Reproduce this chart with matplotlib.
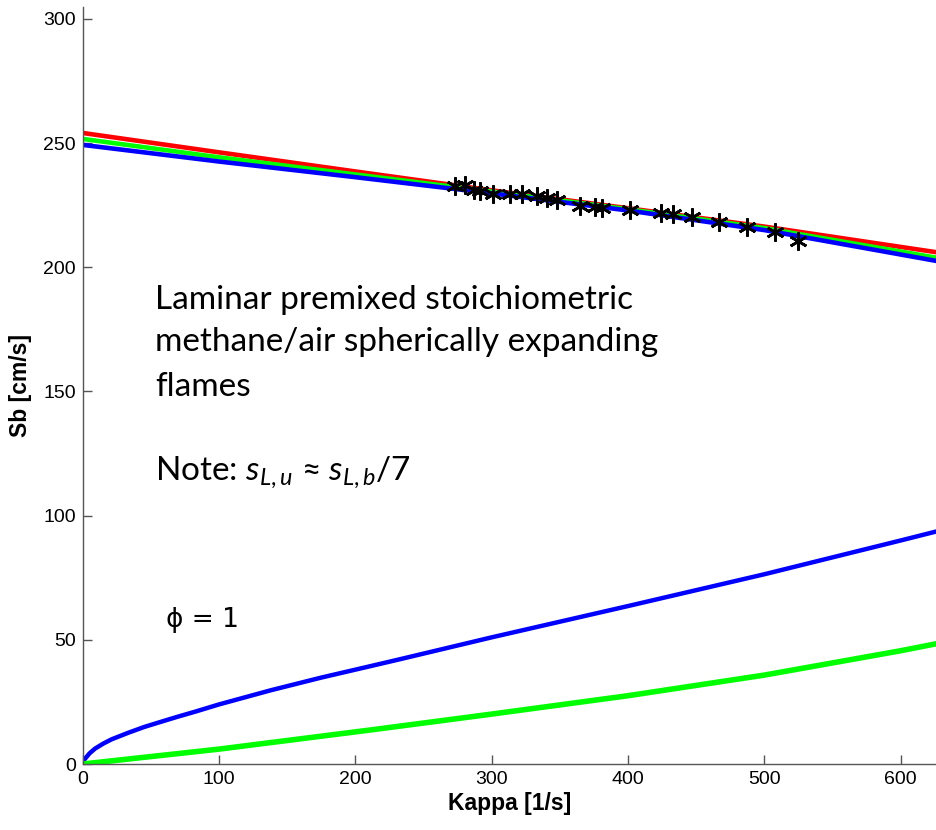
import numpy as np
import matplotlib
matplotlib.use('Agg')
import matplotlib.pyplot as plt

plt.rcParams['font.family'] = ['Liberation Sans', 'DejaVu Sans']
plt.rcParams['mathtext.fontset'] = 'custom'
plt.rcParams['mathtext.rm'] = 'Lato'
plt.rcParams['mathtext.it'] = 'Lato:italic'

# burned flame speed Sb vs stretch rate, upper branch
k_up = [0, 100, 200, 300, 400, 500, 626]
sb_red = [254.1, 246.3, 238.6, 231.0, 223.8, 216.4, 206.1]
sb_green = [251.7, 244.3, 237.4, 230.5, 223.4, 215.8, 203.9]
sb_blue = [249.3, 242.6, 236.3, 229.8, 222.9, 215.0, 202.6]

# lower branch curves
k_blue_lo = [1.5, 5, 9, 15, 21, 33, 45, 58, 70, 82, 100, 138, 175, 211, 232,
             300, 400, 500, 600, 626]
sb_blue_lo = [2.0, 4.3, 6.2, 8.2, 9.9, 12.5, 14.9, 17.1, 19.1, 21.0, 24.0, 29.7,
              34.8, 39.4, 42.1, 51.0, 63.6, 76.4, 90.0, 93.6]
k_green_lo = [0, 100, 211, 300, 400, 500, 600, 626]
sb_green_lo = [0.0, 6.0, 13.7, 20.1, 27.5, 35.8, 45.6, 48.4]

# experiment points
k_exp = [273.2, 280.6, 287.4, 291.1, 301.0, 313.2, 322.3, 333.5, 340.9, 348.2, 364.6,
         375.7, 380.6, 401.4, 424.2, 433.3, 447.3, 466.8, 487.4, 508.0, 524.5]
sb_exp = [232.6, 233.3, 231.3, 230.6, 229.7, 229.7, 229.7, 228.6, 228.0, 227.0, 224.8,
          224.1, 223.7, 223.0, 221.9, 221.4, 220.3, 218.1, 216.3, 214.3, 210.6]

fig = plt.figure(figsize=(9.36, 8.3), dpi=100)
ax = fig.add_axes([0.0884, 0.0795, 0.9116, 0.912])

ax.plot(k_up, sb_red, color='#ff0000', lw=3.3)
ax.plot(k_up, sb_green, color='#00ff00', lw=3.3)
ax.plot(k_up, sb_blue, color='#0000ff', lw=3.3)
ax.plot(k_blue_lo, sb_blue_lo, color='#0000ff', lw=3.2)
ax.plot(k_green_lo, sb_green_lo, color='#00ff00', lw=4)
ax.plot(k_exp, sb_exp, ls='none', marker=(6, 2, 0), ms=13, mew=1.9, color='black')

ax.set_xlim(0, 626)
ax.set_ylim(0, 304.8)
ax.set_xticks([0, 100, 200, 300, 400, 500, 600])
ax.set_yticks([0, 50, 100, 150, 200, 250, 300])
ax.spines['top'].set_visible(False)
ax.spines['right'].set_visible(False)
for s in ['left', 'bottom']:
    ax.spines[s].set_color('#555555')
    ax.spines[s].set_linewidth(1.0)
ax.tick_params(direction='in', length=6.5, width=1.0, color='#555555', pad=5,
               labelsize=14, labelfontfamily='Liberation Sans')
ax.set_xlabel('Kappa [1/s]', fontsize=16.5, fontweight='bold', labelpad=3)
ax.set_ylabel('Sb [cm/s]', fontsize=16.5, fontweight='bold', labelpad=8)

txt = dict(family=['Lato', 'DejaVu Sans'], fontsize=24, va='baseline', ha='left')
fig.text(155/936, 1 - 309/830, 'Laminar premixed stoichiometric', **txt)
fig.text(155/936, 1 - 351/830, 'methane/air spherically expanding', **txt)
fig.text(155/936, 1 - 396/830, 'flames', **txt)
fig.text(155/936, 1 - 480/830, r'Note: $s_{L,u}$ ≈ $s_{L,b}$/7', **txt)
fig.text(166/936, 1 - 627/830, 'ϕ = 1', family=['DejaVu Sans'], fontsize=19,
         va='baseline', ha='left')

fig.savefig('out.png', dpi=100)
